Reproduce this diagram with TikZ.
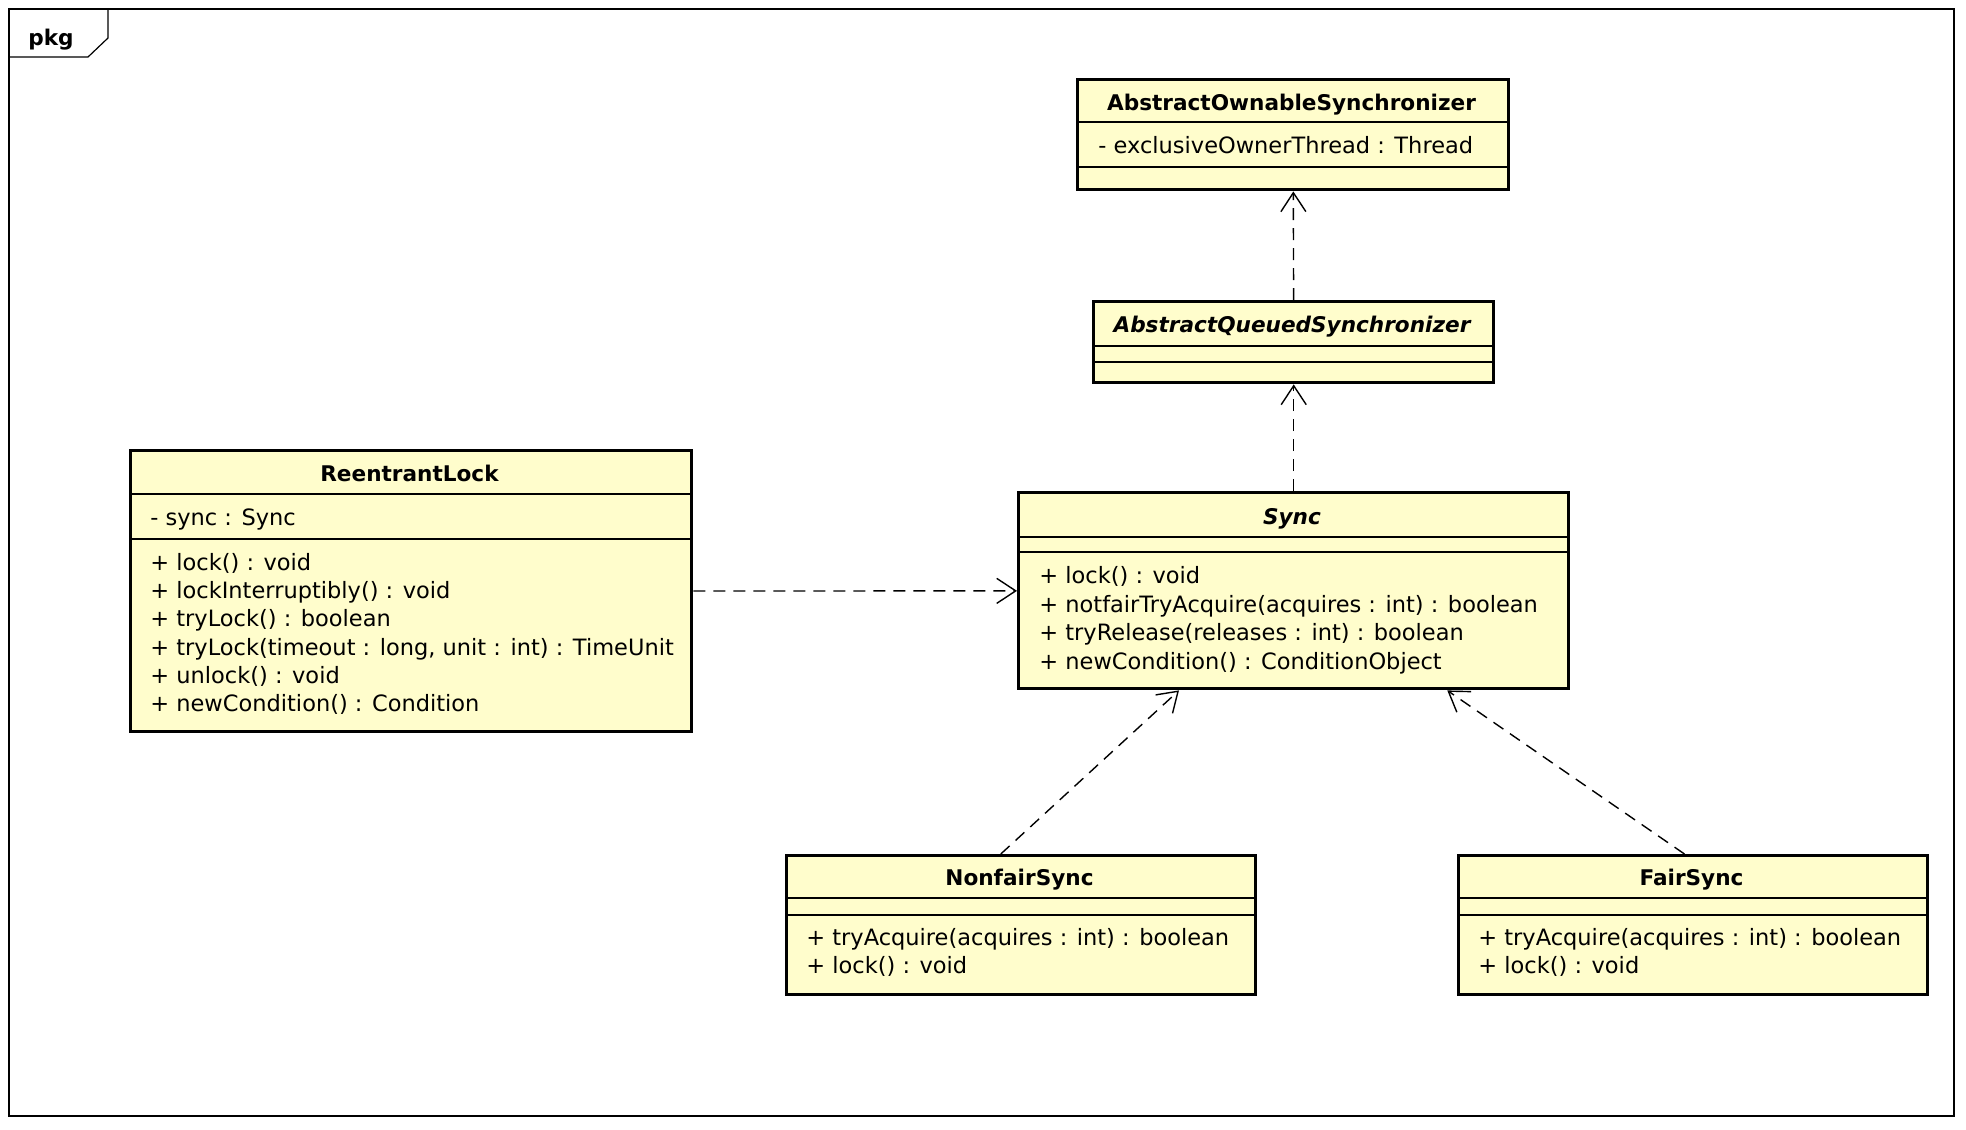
\documentclass[tikz,border=0pt]{standalone}
\usepackage{fontspec}
\setmainfont{DejaVu Sans}
\usepackage{tikz}
\usetikzlibrary{arrows.meta,calc}
\definecolor{umlYellow}{RGB}{255,253,204}

\begin{document}
\begin{tikzpicture}[
            x=0.5pt, y=-0.5pt,
            umlbox/.style={draw, line width=1.7pt, fill=umlYellow, anchor=north west, inner sep=0pt},
            sepline/.style={line width=0.7pt},
            clsname/.style={font=\fontsize{10.8}{13}\selectfont\bfseries, inner sep=0pt, text height=10.6pt, text depth=2pt},
            absname/.style={clsname, font=\fontsize{10.8}{13}\selectfont\bfseries\itshape},
            member/.style={font=\fontsize{11.25}{14}\selectfont, anchor=west, inner sep=0pt, text height=10.3pt, text depth=2pt},
            realize/.style={line width=0.7pt, dash pattern=on 6pt off 4pt, -{Straight Barb[length=9.5pt,width=12.5pt]}}
        ]
            \useasboundingbox (0,0) rectangle (1966,1130);
            % package frame
            \draw[line width=0.9pt] (9,9) rectangle (1954,1116);
            \draw[line width=0.6pt] (108,9) -- (108,38) -- (88,57) -- (9,57);
            \node[clsname] (pkg) at (51,37) {pkg};

            % classes
            \node[umlbox, minimum width=215.5pt, minimum height=55pt] (aos) at (1076,78) {};
            \draw[sepline] (1076,122) -- (1507,122);
            \draw[sepline] (1076,167) -- (1507,167);
            \node[clsname] (aos-name) at (1291.5,101.5) {AbstractOwnableSynchronizer};
            \node[member] (aos-a1) at (1098,145) {- exclusiveOwnerThread : Thread};

            \node[umlbox, minimum width=200pt, minimum height=40.5pt] (aqs) at (1092,300) {};
            \draw[sepline] (1092,346) -- (1492,346);
            \draw[sepline] (1092,362) -- (1492,362);
            \node[absname] (aqs-name) at (1292,323.5) {AbstractQueuedSynchronizer};

            \node[umlbox, minimum width=280.5pt, minimum height=140.5pt] (rl) at (129,449) {};
            \draw[sepline] (129,494) -- (690,494);
            \draw[sepline] (129,539) -- (690,539);
            \node[clsname] (rl-name) at (409.5,472.5) {ReentrantLock};
            \node[member] (rl-a1) at (150,517) {- sync : Sync};
            \node[member] (rl-m1) at (150,562) {+ lock() : void};
            \node[member] (rl-m2) at (150,590) {+ lockInterruptibly() : void};
            \node[member] (rl-m3) at (150,618.5) {+ tryLock() : boolean};
            \node[member] (rl-m4) at (150,647) {+ tryLock(timeout : long, unit : int) : TimeUnit};
            \node[member] (rl-m5) at (150,675) {+ unlock() : void};
            \node[member] (rl-m6) at (150,703.5) {+ newCondition() : Condition};

            \node[umlbox, minimum width=275pt, minimum height=98pt] (sync) at (1017,491) {};
            \draw[sepline] (1017,537) -- (1567,537);
            \draw[sepline] (1017,552) -- (1567,552);
            \node[absname] (sync-name) at (1292,515.5) {Sync};
            \node[member] (sync-m1) at (1039,575.5) {+ lock() : void};
            \node[member] (sync-m2) at (1039,604) {+ notfairTryAcquire(acquires : int) : boolean};
            \node[member] (sync-m3) at (1039,632) {+ tryRelease(releases : int) : boolean};
            \node[member] (sync-m4) at (1039,661) {+ newCondition() : ConditionObject};

            \node[umlbox, minimum width=234.5pt, minimum height=69.5pt] (nonfair) at (785,854) {};
            \draw[sepline] (785,898) -- (1254,898);
            \draw[sepline] (785,915) -- (1254,915);
            \node[clsname] (nonfair-name) at (1019.5,876.5) {NonfairSync};
            \node[member] (nonfair-m1) at (806,937) {+ tryAcquire(acquires : int) : boolean};
            \node[member] (nonfair-m2) at (806,965.5) {+ lock() : void};

            \node[umlbox, minimum width=234.5pt, minimum height=69.5pt] (fair) at (1457,854) {};
            \draw[sepline] (1457,898) -- (1926,898);
            \draw[sepline] (1457,915) -- (1926,915);
            \node[clsname] (fair-name) at (1691.5,876.5) {FairSync};
            \node[member] (fair-m1) at (1478,937) {+ tryAcquire(acquires : int) : boolean};
            \node[member] (fair-m2) at (1478,965.5) {+ lock() : void};

            % dependencies
            \draw[realize] (aqs) -- (aos);
            \draw[realize] (sync) -- (aqs);
            \draw[realize] (rl) -- (sync);
            \draw[realize] (nonfair.106) -- (sync.221);
            \draw[realize] (fair.97) -- (sync.327);
        \end{tikzpicture}
\end{document}
